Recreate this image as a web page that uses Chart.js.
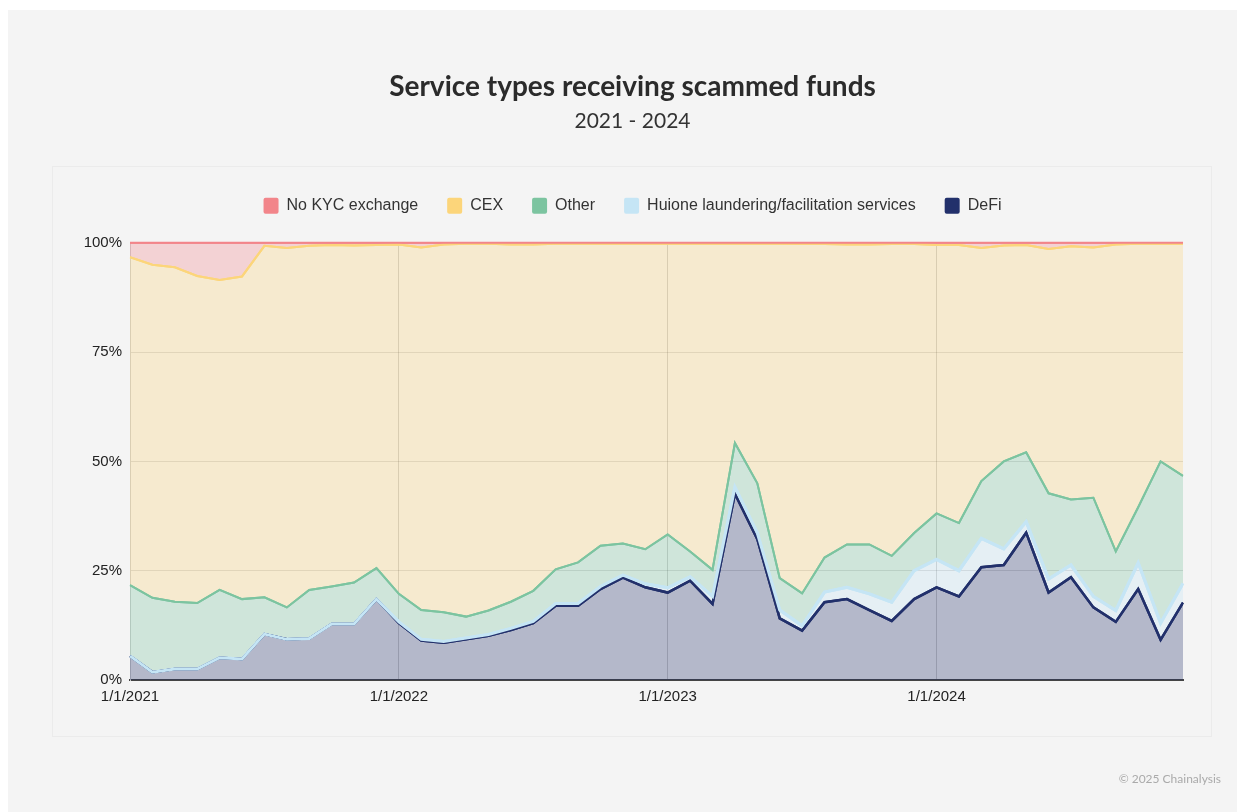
<!DOCTYPE html>
<html>
<head>
    <title>Service types receiving scammed funds</title>
    <script src="https://cdn.jsdelivr.net/npm/chart.js"></script>
    <style>
        html, body { margin: 0; padding: 0; background: #ffffff; }
        canvas { display: block; }
    </style>
</head>
<body>
    <canvas id="areaChart" width="1245" height="812"></canvas>
    <script>
        // Monthly share of scammed funds by receiving service type (%)
        const months = [
            '1/1/2021', '2/1/2021', '3/1/2021', '4/1/2021', '5/1/2021', '6/1/2021',
            '7/1/2021', '8/1/2021', '9/1/2021', '10/1/2021', '11/1/2021', '12/1/2021',
            '1/1/2022', '2/1/2022', '3/1/2022', '4/1/2022', '5/1/2022', '6/1/2022',
            '7/1/2022', '8/1/2022', '9/1/2022', '10/1/2022', '11/1/2022', '12/1/2022',
            '1/1/2023', '2/1/2023', '3/1/2023', '4/1/2023', '5/1/2023', '6/1/2023',
            '7/1/2023', '8/1/2023', '9/1/2023', '10/1/2023', '11/1/2023', '12/1/2023',
            '1/1/2024', '2/1/2024', '3/1/2024', '4/1/2024', '5/1/2024', '6/1/2024',
            '7/1/2024', '8/1/2024', '9/1/2024', '10/1/2024', '11/1/2024', '12/1/2024'
        ];

        const defi = [
            5.5, 1.8, 2.5, 2.5, 5.1, 4.8, 10.5, 9.3, 9.5, 12.8, 12.8, 18.5,
            13.0, 9.0, 8.5, 9.3, 10.1, 11.4, 13.0, 17.0, 17.0, 20.8, 23.4, 21.2,
            20.0, 22.7, 17.4, 42.6, 32.2, 14.1, 11.3, 17.8, 18.5, 16.0, 13.5, 18.5,
            21.2, 19.1, 25.8, 26.3, 33.7, 20.0, 23.5, 16.6, 13.3, 20.8, 9.2, 17.7
        ];
        const huione = [
            0, 0, 0, 0, 0, 0, 0, 0, 0, 0, 0, 0,
            0.3, 0.3, 0.3, 0.3, 0.3, 0.4, 0.4, 0.5, 0.5, 0.6, 0.6, 0.8,
            1.1, 0.9, 1.7, 1.5, 1.4, 1.9, 1.1, 2.3, 2.7, 3.7, 4.3, 6.5,
            6.4, 5.9, 6.6, 3.7, 2.5, 3.1, 2.8, 2.5, 2.6, 6.0, 3.8, 4.4
        ];
        const other = [
            16.2, 17.0, 15.4, 15.1, 15.5, 13.7, 8.4, 7.3, 11.1, 8.6, 9.5, 7.1,
            6.4, 6.7, 6.7, 4.9, 5.5, 6.1, 7.0, 7.8, 9.4, 9.3, 7.2, 7.9,
            12.2, 5.8, 6.1, 10.1, 11.4, 7.3, 7.4, 7.9, 9.8, 11.3, 10.6, 8.6,
            10.5, 10.9, 13.1, 20.0, 15.9, 19.6, 15.0, 22.6, 13.5, 12.7, 37.0, 24.6
        ];
        const cex = [
            75.0, 76.2, 76.5, 74.8, 70.9, 73.8, 80.4, 82.2, 78.7, 78.1, 77.1, 73.9,
            79.9, 82.9, 84.1, 85.3, 83.9, 81.7, 79.2, 74.5, 72.9, 69.1, 68.6, 69.9,
            66.5, 70.4, 74.6, 45.6, 54.8, 76.5, 79.9, 71.7, 68.6, 68.6, 71.3, 66.1,
            61.4, 63.6, 53.3, 49.4, 47.4, 55.9, 57.9, 57.2, 70.2, 60.3, 49.8, 53.1
        ];
        const noKyc = [
            3.3, 5.0, 5.6, 7.6, 8.5, 7.7, 0.7, 1.2, 0.7, 0.5, 0.6, 0.5,
            0.4, 1.1, 0.4, 0.2, 0.2, 0.4, 0.4, 0.2, 0.2, 0.2, 0.2, 0.2,
            0.2, 0.2, 0.2, 0.2, 0.2, 0.2, 0.3, 0.3, 0.4, 0.4, 0.3, 0.3,
            0.5, 0.5, 1.2, 0.6, 0.5, 1.4, 0.8, 1.1, 0.4, 0.2, 0.2, 0.2
        ];
        const yTicks = [0, 25, 50, 75, 100];

        function series(label, data, line, fill, width) {
            return {
                label: label,
                data: data,
                borderColor: line,
                backgroundColor: fill,
                borderWidth: width,
                fill: label === 'DeFi' ? 'origin' : '-1',
                pointRadius: 0,
                tension: 0
            };
        }

        // Page background, framed panel and source note
        const frame = {
            id: 'frame',
            beforeDraw(chart) {
                const c = chart.ctx;
                c.save();
                c.fillStyle = '#ffffff';
                c.fillRect(0, 0, chart.width, chart.height);
                c.fillStyle = '#f4f4f4';
                c.fillRect(8, 10, 1229, 802);
                c.strokeStyle = '#ebebeb';
                c.lineWidth = 1;
                c.strokeRect(52.5, 166.5, 1159, 570);
                c.restore();
            },
            afterDraw(chart) {
                const c = chart.ctx;
                c.save();
                c.font = '12px Lato';
                c.fillStyle = '#aaaaaa';
                c.textAlign = 'right';
                c.textBaseline = 'middle';
                c.fillText('\u00a9 2025 Chainalysis', 1221, 779);
                c.restore();
            }
        };

        // Lines are redrawn bottom-up so upper series sit on top of lower ones
        const lineOrder = {
            id: 'lineOrder',
            afterDatasetsDraw(chart) {
                const c = chart.ctx;
                const a = chart.chartArea;
                c.save();
                c.beginPath();
                c.rect(a.left, a.top - 2, a.right - a.left, a.bottom - a.top + 4);
                c.clip();
                chart.data.datasets.forEach((ds, i) => {
                    chart.getDatasetMeta(i).dataset.draw(c);
                });
                c.restore();
            }
        };

        // Empty boxes: a gap under the legend and a margin right of the plot,
        // so title and legend stay centred over the panel
        function spacer(position, size) {
            const horizontal = position === 'top' || position === 'bottom';
            return {
                position: position,
                weight: 500,
                fullSize: false,
                options: {},
                update(maxWidth, maxHeight) {
                    this.width = horizontal ? maxWidth : size;
                    this.height = horizontal ? size : maxHeight;
                },
                isHorizontal() { return horizontal; },
                draw() {}
            };
        }
        const spacers = {
            id: 'spacers',
            beforeInit(chart) {
                Chart.layouts.addBox(chart, spacer('top', 19));
                Chart.layouts.addBox(chart, spacer('right', 62));
            }
        };

        const ctx = document.getElementById('areaChart').getContext('2d');
        const chart = new Chart(ctx, {
            type: 'line',
            data: {
                labels: months,
                datasets: [
                    series('DeFi', defi, '#22306b', 'rgba(34, 48, 107, 0.3)', 2.5),
                    series('Huione laundering/facilitation services', huione, '#c5e5f5', 'rgba(197, 229, 245, 0.3)', 3),
                    series('Other', other, '#7cc4a0', 'rgba(124, 196, 160, 0.3)', 2),
                    series('CEX', cex, '#fcd57a', 'rgba(252, 213, 122, 0.3)', 2),
                    series('No KYC exchange', noKyc, '#f2858a', 'rgba(242, 133, 138, 0.3)', 2)
                ]
            },
            options: {
                responsive: false,
                animation: false,
                layout: { padding: { left: 20, right: 0, top: 0, bottom: 0 } },
                plugins: {
                    title: {
                        display: true,
                        text: 'Service types receiving scammed funds',
                        color: '#2b2b2b',
                        font: { family: 'Lato', size: 28, weight: 'bold' },
                        padding: { top: 70, bottom: 5 }
                    },
                    subtitle: {
                        display: true,
                        text: '2021 - 2024',
                        color: '#333333',
                        font: { family: 'Lato', size: 21, weight: 'normal' },
                        padding: { top: 0, bottom: 35 }
                    },
                    legend: {
                        reverse: true,
                        labels: {
                            color: '#333333',
                            font: { family: 'Liberation Sans', size: 16 },
                            boxWidth: 15,
                            boxHeight: 16,
                            padding: 29,
                            useBorderRadius: true,
                            borderRadius: 2,
                            generateLabels(chart) {
                                const items = Chart.defaults.plugins.legend.labels.generateLabels(chart);
                                items.forEach(item => {
                                    const ds = chart.data.datasets[item.datasetIndex];
                                    item.fillStyle = ds.borderColor;
                                    item.strokeStyle = ds.borderColor;
                                    item.lineWidth = 0;
                                });
                                return items;
                            }
                        }
                    },
                    tooltip: { enabled: false }
                },
                scales: {
                    x: {
                        afterFit(scale) { scale.height = 132; },
                        grid: {
                            drawTicks: false,
                            color: c => (c.index % 12 === 0 && c.index > 0) ? 'rgba(0, 0, 0, 0.17)' : 'rgba(0, 0, 0, 0)'
                        },
                        border: { color: '#444444', width: 2 },
                        ticks: {
                            autoSkip: false,
                            maxRotation: 0,
                            padding: 8,
                            color: '#222222',
                            font: { family: 'Liberation Sans', size: 15 },
                            callback: (v, i) => i % 12 === 0 ? months[i] : ''
                        }
                    },
                    y: {
                        stacked: true,
                        min: 0,
                        max: 100,
                        afterFit(scale) { scale.width = 110; },
                        afterBuildTicks(scale) { scale.ticks = yTicks.map(v => ({ value: v })); },
                        grid: { drawTicks: false, color: 'rgba(0, 0, 0, 0.12)' },
                        border: { color: '#cccccc', width: 1 },
                        ticks: {
                            padding: 8,
                            color: '#222222',
                            font: { family: 'Liberation Sans', size: 15 },
                            callback: v => v + '%'
                        }
                    }
                }
            },
            plugins: [frame, lineOrder, spacers]
        });
    </script>
</body>
</html>
